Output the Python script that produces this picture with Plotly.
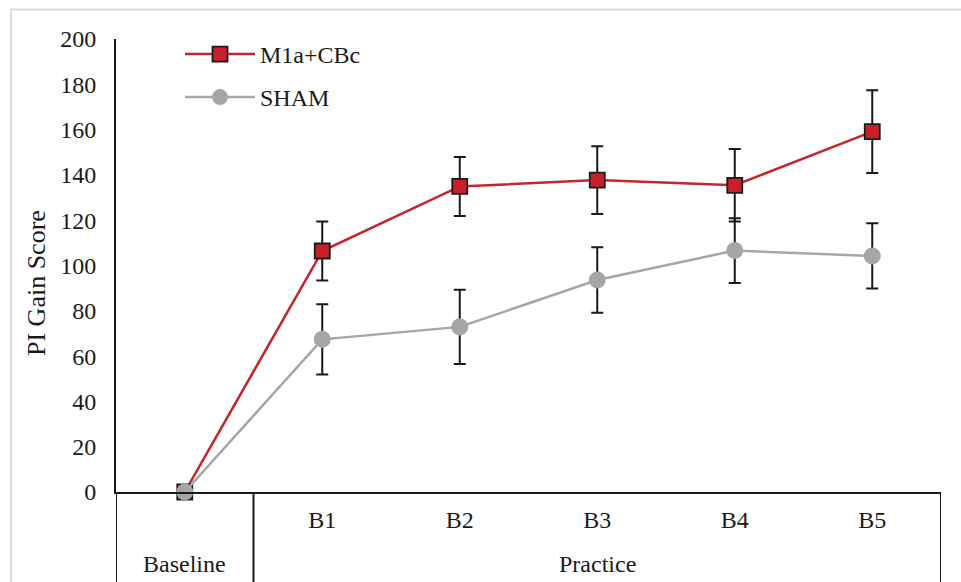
import plotly.graph_objects as go

# ---- data ----
categories = ["Baseline", "B1", "B2", "B3", "B4", "B5"]
tick_text = ["", "B1", "B2", "B3", "B4", "B5"]
group_labels = ["Baseline", "Practice"]
group_centers = ["Baseline", "B3"]
group_bounds = [-0.5, 0.5, 5.5]

m1a_mean = [0, 106.4, 134.9, 137.7, 135.4, 159.1]
m1a_err = [None, 13.0, 13.0, 15.0, 16.0, 18.3]

sham_mean = [0, 67.4, 72.9, 93.6, 106.6, 104.2]
sham_err = [None, 15.5, 16.4, 14.5, 14.3, 14.4]

y_ticks = [0, 20, 40, 60, 80, 100, 120, 140, 160, 180, 200]

RED = "#C1272D"
RED_FILL = "#C8202A"
GRAY = "#A6A6A6"
INK = "#1a1a1a"
FONT = "Liberation Serif, Times New Roman, serif"

fig = go.Figure()

fig.add_trace(go.Scatter(
    x=categories, y=m1a_mean, name="M1a+CBc",
    mode="lines+markers",
    line=dict(color=RED, width=2.5),
    marker=dict(symbol="square", size=15, color=RED_FILL,
                line=dict(color=INK, width=1.8)),
    error_y=dict(type="data", array=m1a_err, visible=True,
                 color=INK, thickness=2, width=6),
    cliponaxis=False, legend="legend",
))

fig.add_trace(go.Scatter(
    x=categories, y=sham_mean, name="SHAM",
    mode="lines+markers",
    line=dict(color=GRAY, width=2.5),
    marker=dict(symbol="circle", size=17, color=GRAY,
                line=dict(color=GRAY, width=0)),
    error_y=dict(type="data", array=sham_err, visible=True,
                 color=INK, thickness=2, width=6),
    cliponaxis=False, legend="legend2",
))

L, R, T, B = 116, 20, 39, 90
W, H = 961, 582
pw = W - L - R
ph = H - T - B

def px_x(p):
    return (p - L) / pw

def px_y(p):
    return (H - B - p) / ph

annotations = [dict(
    text="PI Gain Score", textangle=-90,
    xref="paper", yref="paper", x=px_x(36), y=px_y(283),
    xanchor="center", yanchor="middle", showarrow=False,
    font=dict(size=26),
)]
for lab, cx in zip(group_labels, group_centers):
    annotations.append(dict(
        text=lab, xref="x", yref="paper", x=cx, y=px_y(564),
        xanchor="center", yanchor="middle", showarrow=False,
        font=dict(size=24),
    ))

shapes = [dict(
    type="rect", xref="paper", yref="paper", layer="below",
    x0=px_x(11), x1=px_x(1000), y0=px_y(640), y1=px_y(9.5),
    line=dict(color="#DCDCDC", width=2), fillcolor="rgba(0,0,0,0)",
)]
for xb in group_bounds:
    shapes.append(dict(
        type="line", xref="x", yref="paper",
        x0=xb, x1=xb, y0=0, y1=px_y(590),
        line=dict(color=INK, width=2),
    ))

fig.update_layout(
    width=W, height=H,
    margin=dict(l=L, r=R, t=T, b=B),
    paper_bgcolor="white", plot_bgcolor="white",
    font=dict(family=FONT, size=24, color=INK),
    showlegend=True,
    legend=dict(x=px_x(180), y=px_y(32), xanchor="left", yanchor="top",
                bgcolor="rgba(0,0,0,0)", font=dict(size=24), itemwidth=70),
    legend2=dict(x=px_x(180), y=px_y(75), xanchor="left", yanchor="top",
                 bgcolor="rgba(0,0,0,0)", font=dict(size=24), itemwidth=70),
    xaxis=dict(
        type="category", categoryorder="array", categoryarray=categories,
        tickvals=categories, ticktext=tick_text,
        range=[-0.5, 5.5],
        showline=True, linecolor=INK, linewidth=2, mirror=False,
        ticks="", showgrid=False, zeroline=False,
        tickfont=dict(size=24), ticklabelstandoff=5, automargin=False,
    ),
    yaxis=dict(
        range=[0, 200], tickvals=y_ticks,
        showline=True, linecolor=INK, linewidth=2,
        ticks="", showgrid=False, zeroline=False,
        tickfont=dict(size=24), ticklabelstandoff=13, automargin=False,
    ),
    annotations=annotations,
    shapes=shapes,
)

fig.write_html("out.html", config={"displayModeBar": False},
               post_script="document.body.style.margin='0px';")
